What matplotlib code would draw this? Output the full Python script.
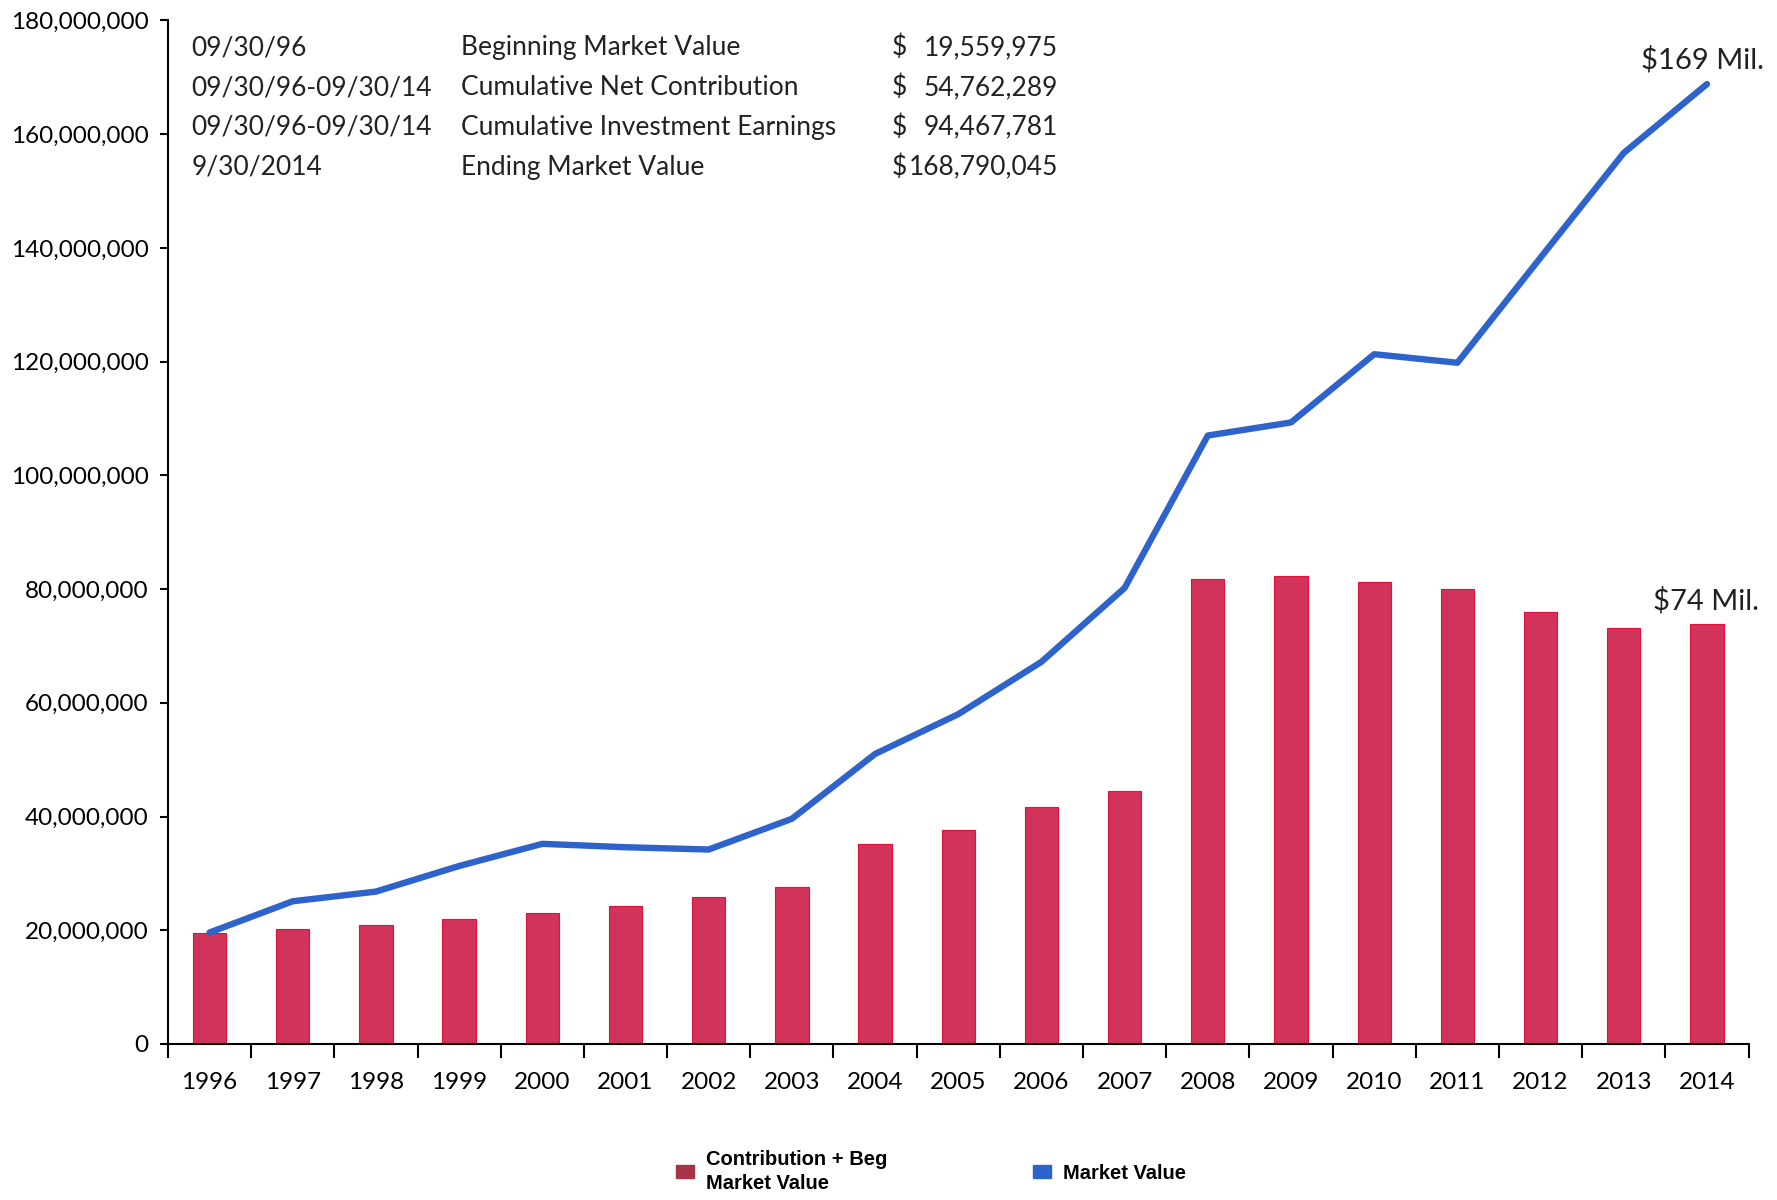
import numpy as np
import matplotlib.pyplot as plt
from matplotlib.patches import Patch
from matplotlib.ticker import FuncFormatter

years = ['1996', '1997', '1998', '1999', '2000', '2001', '2002', '2003', '2004', '2005',
         '2006', '2007', '2008', '2009', '2010', '2011', '2012', '2013', '2014']
# contribution + beginning market value (millions)
contrib = [19.6, 20.3, 20.9, 21.9, 23.0, 24.3, 25.8, 27.6, 35.2, 37.6,
           41.6, 44.5, 81.8, 82.3, 81.3, 80.0, 76.0, 73.2, 73.8]
# market value (millions)
market = [19.6, 25.1, 26.8, 31.3, 35.2, 34.6, 34.2, 39.6, 51.0, 58.0,
          67.2, 80.2, 107.0, 109.3, 121.3, 119.8, 138.3, 156.7, 168.8]

summary_dates = ['09/30/96', '09/30/96-09/30/14', '09/30/96-09/30/14', '9/30/2014']
summary_labels = ['Beginning Market Value', 'Cumulative Net Contribution',
                  'Cumulative Investment Earnings', 'Ending Market Value']
summary_values = ['19,559,975', '54,762,289', '94,467,781', '168,790,045']

bar_color = '#d2335a'
line_color = '#2f63cc'

plt.rcParams['font.family'] = ['Lato', 'DejaVu Sans']

fig = plt.figure(figsize=(17.77, 12), dpi=100)
ax = fig.add_axes([0.0945, 0.13, 0.8895, 0.853])

x = np.arange(len(years))
ax.bar(x, np.array(contrib) * 1e6, width=0.4, color=bar_color, edgecolor='#e0103a', linewidth=0.8, zorder=2)
ax.plot(x, np.array(market) * 1e6, color=line_color, linewidth=4.6, solid_capstyle='round', zorder=3)

ax.set_xlim(-0.5, len(years) - 0.5)
ax.set_ylim(0, 180e6)
ax.set_yticks(np.arange(0, 180e6 + 1, 20e6))
ax.yaxis.set_major_formatter(FuncFormatter(lambda v, p: '{:,.0f}'.format(v)))
ax.set_xticks(np.arange(-0.5, len(years), 1.0))
ax.set_xticklabels([])
ax.set_xticks(x, minor=True)
ax.set_xticklabels(years, minor=True)
ax.tick_params(axis='x', which='major', direction='out', length=10, width=1.5)
ax.tick_params(axis='x', which='minor', length=0, pad=20, labelsize=17.5)
ax.tick_params(axis='y', direction='out', length=6, width=1.5, labelsize=17.5, pad=8)
for s in ['top', 'right']:
    ax.spines[s].set_visible(False)
for s in ['left', 'bottom']:
    ax.spines[s].set_linewidth(1.5)

# summary table
row_y = [175.2, 168.2, 161.2, 154.2]
for i in range(4):
    yy = row_y[i] * 1e6
    ax.text(-0.22, yy, summary_dates[i], fontsize=19, va='center', ha='left', color='#222222')
    ax.text(3.02, yy, summary_labels[i], fontsize=19, va='center', ha='left', color='#222222')
    ax.text(8.2, yy, '$', fontsize=19, va='center', ha='left', color='#222222')
    ax.text(10.2, yy, summary_values[i], fontsize=19, va='center', ha='right', color='#222222')

ax.annotate('$169 Mil.', xy=(x[-1], market[-1] * 1e6), xytext=(-4, 24), textcoords='offset pixels',
            ha='center', va='center', fontsize=21, color='#222222')
ax.annotate('$74 Mil.', xy=(x[-1], contrib[-1] * 1e6), xytext=(-1, 24), textcoords='offset pixels',
            ha='center', va='center', fontsize=21, color='#222222')

handles = [Patch(facecolor='#a83347', edgecolor='#a83347'),
           Patch(facecolor=line_color, edgecolor=line_color)]
labels = ['Contribution + Beg\nMarket Value', 'Market Value']
fig.legend(handles, labels, loc='center', bbox_to_anchor=(0.524, 0.024), ncol=2, frameon=False,
           prop={'family': 'Liberation Sans', 'weight': 'bold', 'size': 14.5},
           handlelength=0.9, handleheight=0.6, columnspacing=7.2, handletextpad=0.6)
for t in fig.legends[0].get_texts():
    t.set_linespacing(1.35)

fig.savefig('out.png', dpi=100)
